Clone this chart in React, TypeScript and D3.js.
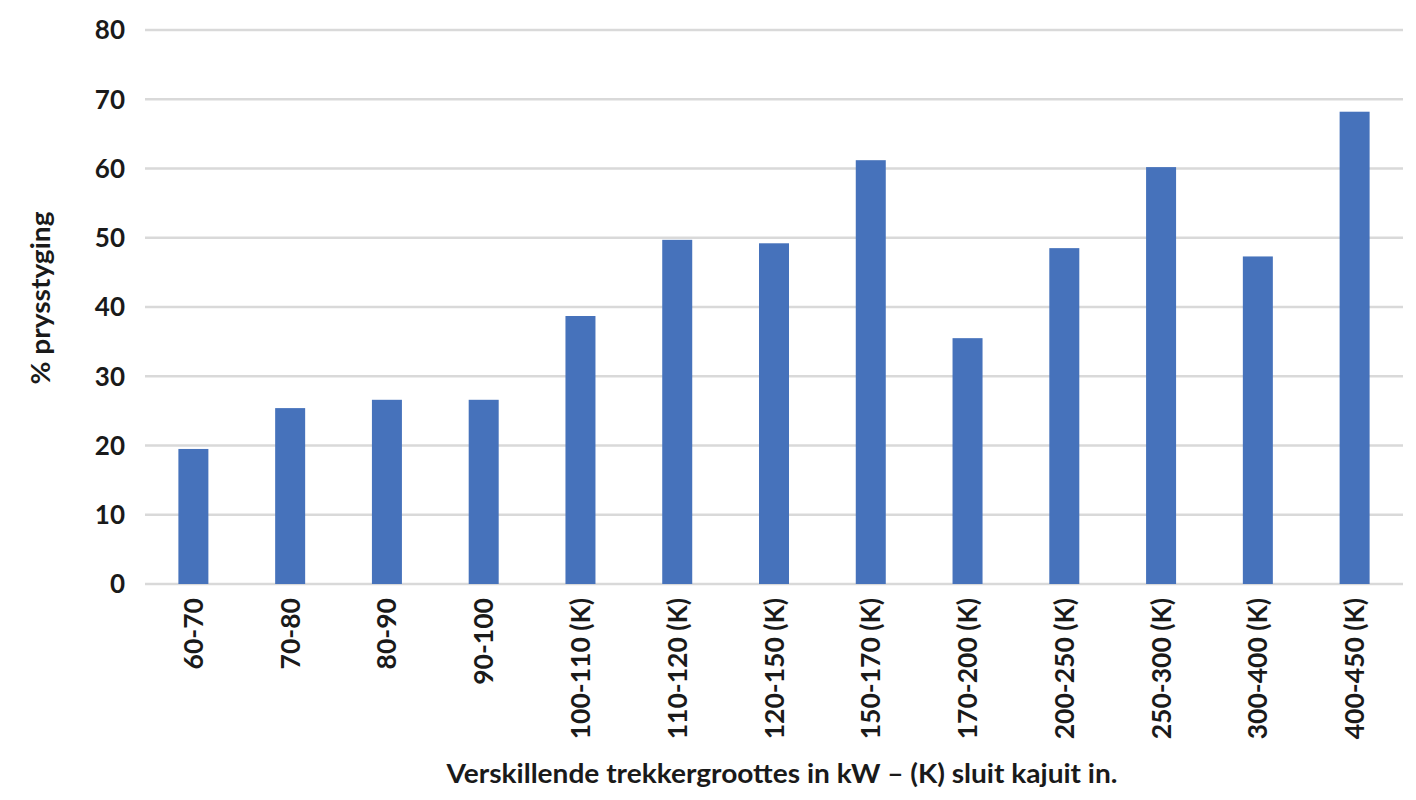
import React, { useEffect, useRef } from 'react';
import * as d3 from 'd3';

// Tractor size classes (kW), (K) = cab included
const categories = [
  "60-70", "70-80", "80-90", "90-100", "100-110 (K)", "110-120 (K)", "120-150 (K)",
  "150-170 (K)", "170-200 (K)", "200-250 (K)", "250-300 (K)", "300-400 (K)", "400-450 (K)",
];
// % price increase
const priceRise = [19.5, 25.4, 26.6, 26.6, 38.7, 49.7, 49.2, 61.2, 35.5, 48.5, 60.2, 47.3, 68.2];
const yTicks = [0, 10, 20, 30, 40, 50, 60, 70, 80];

const yTitle = "% prysstyging";
const xTitle = "Verskillende trekkergroottes in kW – (K) sluit kajuit in.";

const font = "Lato, 'Open Sans', sans-serif";

export default function App() {
  const svgRef = useRef<SVGSVGElement>(null);

  useEffect(() => {
    if (!svgRef.current) return;
    const svg = d3.select(svgRef.current);
    svg.selectAll("*").remove();

    const W = 1416;
    const H = 800;
    const margin = { top: 30, right: 13, bottom: 216, left: 145 };
    const width = W - margin.left - margin.right;
    const height = H - margin.top - margin.bottom;

    const g = svg.append("g")
      .attr("transform", `translate(${margin.left},${margin.top})`);

    const x = d3.scaleBand()
      .domain(categories)
      .range([0, width])
      .paddingInner(0.69)
      .paddingOuter(0.345);

    const y = d3.scaleLinear()
      .domain([0, 80])
      .range([height, 0]);

    // gridlines
    g.append("g")
      .selectAll("line")
      .data(yTicks)
      .join("line")
      .attr("x1", 0)
      .attr("x2", width)
      .attr("y1", d => y(d))
      .attr("y2", d => y(d))
      .attr("stroke", "#d9d9d9")
      .attr("stroke-width", 2.5);

    // y tick labels
    g.append("g")
      .selectAll("text")
      .data(yTicks)
      .join("text")
      .attr("x", -20)
      .attr("y", d => y(d))
      .attr("dy", "0.36em")
      .attr("text-anchor", "end")
      .style("font-family", font)
      .style("font-weight", 700)
      .style("font-size", "26px")
      .attr("fill", "#1a1a1a")
      .text(d => d);

    // bars
    g.selectAll(".bar")
      .data(priceRise)
      .join("rect")
      .attr("class", "bar")
      .attr("x", (_, i) => x(categories[i]) || 0)
      .attr("y", d => y(d))
      .attr("width", x.bandwidth())
      .attr("height", d => height - y(d))
      .attr("fill", "#4672bb");

    // x tick labels, rotated
    g.append("g")
      .selectAll("text")
      .data(categories)
      .join("text")
      .attr("transform", d => `translate(${(x(d) || 0) + x.bandwidth() / 2},${height + 14}) rotate(-90)`)
      .attr("dy", "0.36em")
      .attr("text-anchor", "end")
      .style("font-family", font)
      .style("font-weight", 700)
      .style("font-size", "26.5px")
      .attr("fill", "#1a1a1a")
      .text(d => d);

    // axis titles
    svg.append("text")
      .attr("transform", `translate(50,298) rotate(-90)`)
      .attr("text-anchor", "middle")
      .style("font-family", font)
      .style("font-weight", 700)
      .style("font-size", "27px")
      .attr("fill", "#1a1a1a")
      .attr("textLength", 173)
      .attr("lengthAdjust", "spacingAndGlyphs")
      .text(yTitle);

    svg.append("text")
      .attr("x", 782)
      .attr("y", 783)
      .attr("text-anchor", "middle")
      .style("font-family", font)
      .style("font-weight", 700)
      .style("font-size", "26px")
      .attr("fill", "#1a1a1a")
      .attr("textLength", 671)
      .attr("lengthAdjust", "spacingAndGlyphs")
      .text(xTitle);
  }, []);

  return (
    <div style={{ position: "absolute", left: 0, top: 0, background: "#fff" }}>
      <svg ref={svgRef} width={1416} height={800} />
    </div>
  );
}
